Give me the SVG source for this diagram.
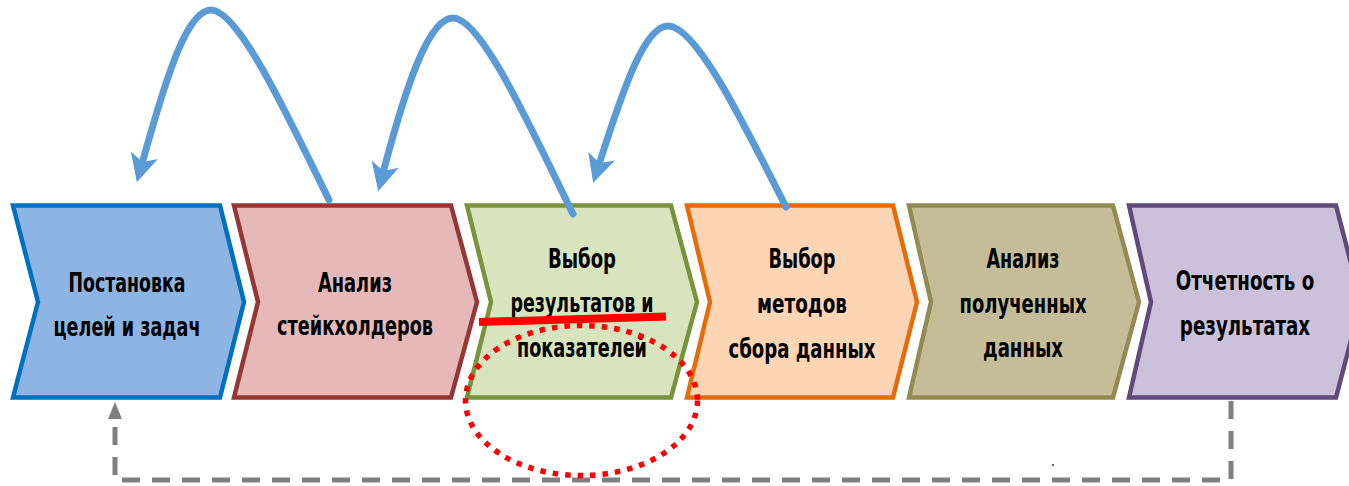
<svg xmlns="http://www.w3.org/2000/svg" width="1349" height="486" viewBox="0 0 1349 486">
<style>
.chev{stroke-width:4.5;stroke-linejoin:miter}
.lbl{font-family:"DejaVu Sans Condensed","Liberation Sans",sans-serif;font-weight:bold;font-size:26px;fill:#000;text-anchor:middle}
.loop{fill:none;stroke:#5B9BD5;stroke-width:7;stroke-linecap:round;marker-end:url(#blueHead)}
.back{fill:none;stroke:#7F7F7F;stroke-width:5;stroke-dasharray:18 12}
</style>
<defs>
<marker id="blueHead" markerUnits="userSpaceOnUse" markerWidth="30" markerHeight="28" viewBox="0 0 30 28" refX="7" refY="14" orient="auto" overflow="visible">
<path d="M0,0 L28,14 L0,28 L7,14 z" fill="#5B9BD5"/>
</marker>
<marker id="grayHead" markerUnits="userSpaceOnUse" markerWidth="18" markerHeight="14" viewBox="0 0 18 14" refX="1" refY="7" orient="auto" overflow="visible">
<path d="M0,0 L17,7 L0,14 z" fill="#7F7F7F"/>
</marker>
</defs>
<rect width="1349" height="486" fill="#FFFFFF"/>

<g id="node-1">
<polygon class="chev" fill="#8EB4E3" stroke="#0070C0" points="13,205.5 220,205.5 244,302 220,397.5 13,397.5 38,302"/>
<text class="lbl" x="127" y="292" textLength="117" lengthAdjust="spacingAndGlyphs">Постановка</text>
<text class="lbl" x="127" y="336" textLength="147" lengthAdjust="spacingAndGlyphs">целей и задач</text>
</g>
<g id="node-2">
<polygon class="chev" fill="#E6B9B8" stroke="#953735" points="234,205.5 451,205.5 477,302 451,397.5 234,397.5 258,302"/>
<text class="lbl" x="355" y="292" textLength="74" lengthAdjust="spacingAndGlyphs">Анализ</text>
<text class="lbl" x="355" y="335" textLength="156" lengthAdjust="spacingAndGlyphs">стейкхолдеров</text>
</g>
<g id="node-3">
<polygon class="chev" fill="#D7E4BD" stroke="#77933C" points="467,205.5 671,205.5 697,302 671,397.5 467,397.5 491,302"/>
<text class="lbl" x="582" y="268" textLength="68" lengthAdjust="spacingAndGlyphs">Выбор</text>
<text class="lbl" x="582" y="312" textLength="143" lengthAdjust="spacingAndGlyphs">результатов и</text>
<text class="lbl" x="582" y="357" textLength="130" lengthAdjust="spacingAndGlyphs">показателей</text>
</g>
<g id="node-4">
<polygon class="chev" fill="#FCD5B5" stroke="#E46C0A" points="687,205.5 893,205.5 917,302 893,397.5 687,397.5 710,302"/>
<text class="lbl" x="802" y="268" textLength="67" lengthAdjust="spacingAndGlyphs">Выбор</text>
<text class="lbl" x="802" y="313" textLength="90" lengthAdjust="spacingAndGlyphs">методов</text>
<text class="lbl" x="802" y="358" textLength="147" lengthAdjust="spacingAndGlyphs">сбора данных</text>
</g>
<g id="node-5">
<polygon class="chev" fill="#C4BD97" stroke="#948A54" points="909,205.5 1113,205.5 1139,302 1113,397.5 909,397.5 931,302"/>
<text class="lbl" x="1023" y="268" textLength="73" lengthAdjust="spacingAndGlyphs">Анализ</text>
<text class="lbl" x="1023" y="313" textLength="127" lengthAdjust="spacingAndGlyphs">полученных</text>
<text class="lbl" x="1023" y="357" textLength="80" lengthAdjust="spacingAndGlyphs">данных</text>
</g>
<g id="node-6">
<polygon class="chev" fill="#CCC1DA" stroke="#604A7B" points="1129,205.5 1336,205.5 1361,302 1336,397.5 1129,397.5 1151,302"/>
<g transform="translate(1245,290) scale(0.78,1)"><text class="lbl" x="0" y="0">Отчетность о</text></g>
<g transform="translate(1245,335) scale(0.78,1)"><text class="lbl" x="0" y="0">результатах</text></g>
</g>

<g id="connectors">
<path class="loop" d="M329,200 C285,110 238,10 211,10 C188,10 168,70 142.5,162"/>
<path class="loop" d="M573,214 C529,124 481,18 453,18 C430,18 408,78 383.5,171"/>
<path class="loop" d="M786,207 C742,120 696,26 668,26 C645,26 624,86 599.5,163"/>
<path class="back" d="M1231,401 L1231,480 L115,480 L115,418" marker-end="url(#grayHead)"/>
</g>

<g id="annotations">
<line x1="479" y1="322" x2="666" y2="316.5" stroke="#FF0000" stroke-width="8"/>
<ellipse cx="581.5" cy="400.5" rx="116" ry="75" fill="none" stroke="#FF0000" stroke-width="5.5" stroke-dasharray="5.5 7"/>
<circle cx="1053" cy="465" r="1" fill="#333333"/>
</g>
</svg>
